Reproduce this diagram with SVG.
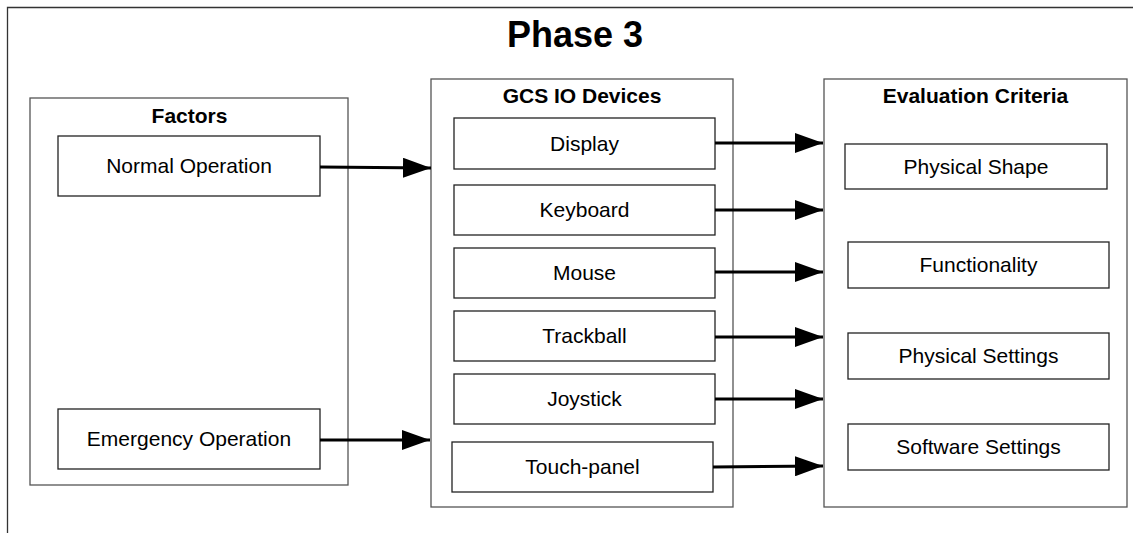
<svg xmlns="http://www.w3.org/2000/svg" width="1133" height="533" viewBox="0 0 1133 533">
  <style>
    .group { fill: #ffffff; stroke: #555555; stroke-width: 1.3; }
    .item { fill: #ffffff; stroke: #222222; stroke-width: 1.3; }
    .frame { fill: none; stroke: #333333; stroke-width: 1.3; }
    .title { font-family: "Liberation Sans", Arial, sans-serif; font-size: 36px; font-weight: bold; fill: #000; text-anchor: middle; }
    .head { font-family: "Liberation Sans", Arial, sans-serif; font-size: 21px; font-weight: bold; fill: #000; text-anchor: middle; }
    .label { font-family: "Liberation Sans", Arial, sans-serif; font-size: 21px; fill: #000; text-anchor: middle; }
    .link { fill: none; stroke: #000; stroke-width: 3; marker-end: url(#arrow); }
  </style>
  <defs>
    <marker id="arrow" markerUnits="userSpaceOnUse" markerWidth="28" markerHeight="20" refX="28" refY="10" orient="auto">
      <path d="M0,0 L28,10 L0,20 Z" fill="#000"/>
    </marker>
  </defs>

  <rect width="1133" height="533" fill="#ffffff"/>
  <!-- page frame (open on the right and bottom) -->
  <path class="frame" d="M7.5,533 V7.5 H1133"/>

  <text class="title" x="575" y="47">Phase 3</text>

  <!-- Factors column -->
  <g id="factors">
    <rect class="group" x="30" y="98" width="318" height="387"/>
    <text class="head" x="189.5" y="123">Factors</text>
  </g>
  <g id="normal-operation">
    <rect class="item" x="58" y="136" width="262" height="60"/>
    <text class="label" x="189" y="173">Normal Operation</text>
  </g>
  <g id="emergency-operation">
    <rect class="item" x="58" y="409" width="262" height="60"/>
    <text class="label" x="189" y="446">Emergency Operation</text>
  </g>

  <!-- GCS IO Devices column -->
  <g id="gcs-io-devices">
    <rect class="group" x="431" y="79" width="302" height="428"/>
    <text class="head" x="582" y="103">GCS IO Devices</text>
  </g>
  <g id="display">
    <rect class="item" x="454" y="118" width="261" height="51"/>
    <text class="label" x="584.5" y="150.5">Display</text>
  </g>
  <g id="keyboard">
    <rect class="item" x="454" y="185" width="261" height="50"/>
    <text class="label" x="584.5" y="217">Keyboard</text>
  </g>
  <g id="mouse">
    <rect class="item" x="454" y="248" width="261" height="50"/>
    <text class="label" x="584.5" y="280">Mouse</text>
  </g>
  <g id="trackball">
    <rect class="item" x="454" y="311" width="261" height="50"/>
    <text class="label" x="584.5" y="343">Trackball</text>
  </g>
  <g id="joystick">
    <rect class="item" x="454" y="374" width="261" height="50"/>
    <text class="label" x="584.5" y="406">Joystick</text>
  </g>
  <g id="touch-panel">
    <rect class="item" x="452" y="442" width="261" height="50"/>
    <text class="label" x="582.5" y="474">Touch-panel</text>
  </g>

  <!-- Evaluation Criteria column -->
  <g id="evaluation-criteria">
    <rect class="group" x="824" y="79" width="303" height="428"/>
    <text class="head" x="975.5" y="103">Evaluation Criteria</text>
  </g>
  <g id="physical-shape">
    <rect class="item" x="845" y="144" width="262" height="45"/>
    <text class="label" x="976" y="173.5">Physical Shape</text>
  </g>
  <g id="functionality">
    <rect class="item" x="848" y="242" width="261" height="46"/>
    <text class="label" x="978.5" y="272">Functionality</text>
  </g>
  <g id="physical-settings">
    <rect class="item" x="848" y="333" width="261" height="46"/>
    <text class="label" x="978.5" y="363">Physical Settings</text>
  </g>
  <g id="software-settings">
    <rect class="item" x="848" y="424" width="261" height="46"/>
    <text class="label" x="978.5" y="454">Software Settings</text>
  </g>

  <!-- connectors -->
  <g id="connectors">
    <path class="link" d="M320,167 L431,168"/>
    <path class="link" d="M320,440 L430,440"/>
    <path class="link" d="M715,143 L823,143"/>
    <path class="link" d="M715,210 L823,210"/>
    <path class="link" d="M715,272 L823,272"/>
    <path class="link" d="M715,337 L823,337"/>
    <path class="link" d="M715,399 L823,399"/>
    <path class="link" d="M713,467 L823,466"/>
  </g>
</svg>
